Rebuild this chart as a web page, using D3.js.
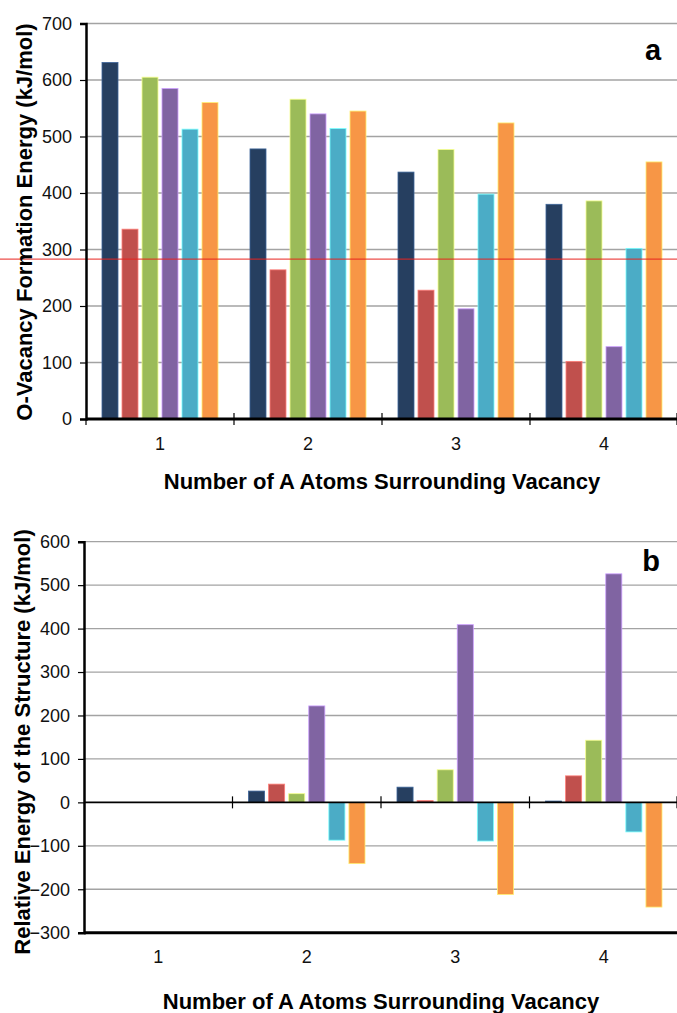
<!DOCTYPE html>
<html>
<head>
<meta charset="utf-8">
<script src="https://cdn.jsdelivr.net/npm/d3@7"></script>
<style>
  body { margin: 0; background: #fff; }
  svg { display: block; }
  .tick-label { font-family: 'Liberation Sans Narrow', 'Arial Narrow', 'Liberation Sans', Arial, sans-serif; font-size: 18px; fill: #111; }
  .title { font-family: 'Liberation Sans', Arial, sans-serif; font-weight: bold; font-size: 22px; fill: #000; }
  .panel-tag { font-family: 'Liberation Sans', Arial, sans-serif; font-weight: bold; font-size: 29px; fill: #000; }
</style>
</head>
<body>
<svg width="677" height="1013"></svg>
<script>
// shared
let categories = ['1', '2', '3', '4'];
let seriesColors = ['#263f60', '#c0504d', '#9bbb59', '#8064a2', '#4bacc6', '#f79646'];

// panel a: O-vacancy formation energy
let formNavy = [631, 478, 437, 380];
let formRed = [336, 264, 228, 102];
let formGreen = [605, 566, 477, 386];
let formPurple = [585, 540, 195, 128];
let formCyan = [513, 514, 398, 302];
let formOrange = [560, 545, 524, 455];
let formRefLine = 283;
let formTicks = [0, 100, 200, 300, 400, 500, 600, 700];

// panel b: relative energy of the structure
let relNavy = [0, 26, 35, 3];
let relRed = [0, 42, 4, 61];
let relGreen = [0, 20, 75, 143];
let relPurple = [0, 222, 409, 526];
let relCyan = [0, -87, -89, -68];
let relOrange = [0, -141, -212, -241];
let relTicks = [-300, -200, -100, 0, 100, 200, 300, 400, 500, 600];

let svg = d3.select('svg');

function drawPanel(opt) {
  let g = svg.append('g');
  let series = opt.series;
  let x0 = d3.scaleBand().domain(categories).range([opt.left, opt.right]);
  let x1 = d3.scaleBand().domain(d3.range(series.length))
    .range([16, x0.bandwidth() - 16]).paddingInner(0.2);
  let y = d3.scaleLinear().domain(opt.domain).range([opt.bottom, opt.top]);

  // gridlines
  g.append('g')
    .selectAll('line')
    .data(opt.ticks.filter(function(d) { return d != 0 && d != opt.domain[0]; }))
    .enter()
    .append('line')
    .attr('x1', opt.left).attr('x2', opt.right)
    .attr('y1', function(d) { return y(d); })
    .attr('y2', function(d) { return y(d); })
    .attr('stroke', '#a3a3a3')
    .attr('stroke-width', 1.3);

  // bars
  let rows = [];
  series.forEach(function(vals, si) {
    vals.forEach(function(v, ci) {
      rows.push({ s: si, c: categories[ci], v: v });
    });
  });
  g.append('g')
    .selectAll('rect')
    .data(rows.filter(function(d) { return d.v != 0; }))
    .enter()
    .append('rect')
    .attr('x', function(d) { return x0(d.c) + x1(d.s); })
    .attr('width', x1.bandwidth())
    .attr('y', function(d) { return y(Math.max(0, d.v)); })
    .attr('height', function(d) { return Math.abs(y(d.v) - y(0)); })
    .attr('fill', function(d) { return seriesColors[d.s]; })
    .attr('stroke', function(d) { return d3.color(seriesColors[d.s]).brighter(1.3); })
    .attr('stroke-width', 0.8);

  if (opt.refLine != null) {
    g.append('line')
      .attr('x1', 0).attr('x2', opt.right)
      .attr('y1', y(opt.refLine)).attr('y2', y(opt.refLine))
      .attr('stroke', '#e8231e')
      .attr('stroke-width', 1);
  }

  // y axis
  let yAxis = d3.axisLeft(y).tickValues(opt.ticks).tickSize(6).tickPadding(8)
    .tickFormat(d3.format('d'));
  let ya = g.append('g')
    .attr('transform', 'translate(' + opt.left + ',0)')
    .call(yAxis);
  ya.select('.domain').attr('stroke', '#000').attr('stroke-width', 2.5);
  ya.selectAll('.tick line').attr('stroke', '#000').attr('stroke-width', 1.2);
  ya.selectAll('.tick text').attr('class', 'tick-label').attr('fill', null)
    .attr('font-size', null).attr('font-family', null);

  // category axis (at zero)
  let zeroY = y(0);
  let isA = opt.domain[0] == 0;
  g.append('line')
    .attr('x1', opt.left).attr('x2', opt.right)
    .attr('y1', zeroY).attr('y2', zeroY)
    .attr('stroke', '#000')
    .attr('stroke-width', isA ? 3 : 1.6);
  g.append('g')
    .selectAll('line')
    .data(categories.slice(1).concat(['end']))
    .enter()
    .append('line')
    .attr('x1', function(d) { return d == 'end' ? opt.right - 1 : x0(d); })
    .attr('x2', function(d) { return d == 'end' ? opt.right - 1 : x0(d); })
    .attr('y1', zeroY - 6).attr('y2', zeroY + 6)
    .attr('stroke', '#000').attr('stroke-width', 1.2);
  if (isA) {
    g.append('line')
      .attr('x1', opt.left).attr('x2', opt.left)
      .attr('y1', zeroY).attr('y2', zeroY + 6)
      .attr('stroke', '#000').attr('stroke-width', 1.2);
  } else {
    // bottom frame line for panel b
    g.append('line')
      .attr('x1', opt.left).attr('x2', opt.right)
      .attr('y1', opt.bottom).attr('y2', opt.bottom)
      .attr('stroke', '#000').attr('stroke-width', 3);
  }

  g.append('g')
    .selectAll('text')
    .data(categories)
    .enter()
    .append('text')
    .attr('class', 'tick-label')
    .attr('x', function(d) { return x0(d) + x0.bandwidth() / 2; })
    .attr('y', opt.catY)
    .attr('text-anchor', 'middle')
    .text(function(d) { return d; });

  g.append('text')
    .attr('class', 'title')
    .attr('x', (opt.left + opt.right) / 2)
    .attr('y', opt.xTitleY)
    .attr('text-anchor', 'middle')
    .text('Number of A Atoms Surrounding Vacancy');

  g.append('text')
    .attr('class', 'title')
    .attr('transform', 'translate(' + opt.yTitleX + ',' + opt.yTitleMid + ') rotate(-90)')
    .attr('text-anchor', 'middle')
    .text(opt.yTitle);

  g.append('text')
    .attr('class', 'panel-tag')
    .attr('x', opt.tagX).attr('y', opt.tagY)
    .attr('text-anchor', 'middle')
    .text(opt.tag);
}

drawPanel({
  series: [formNavy, formRed, formGreen, formPurple, formCyan, formOrange],
  domain: [0, 700], ticks: formTicks, refLine: formRefLine,
  left: 86, right: 678, top: 23.5, bottom: 419,
  catY: 450, xTitleY: 489,
  yTitle: 'O-Vacancy Formation Energy (kJ/mol)', yTitleX: 32, yTitleMid: 222,
  tag: 'a', tagX: 653, tagY: 60
});

drawPanel({
  series: [relNavy, relRed, relGreen, relPurple, relCyan, relOrange],
  domain: [-300, 600], ticks: relTicks, refLine: null,
  left: 84, right: 678, top: 541.7, bottom: 932.7,
  catY: 963, xTitleY: 1009,
  yTitle: 'Relative Energy of the Structure (kJ/mol)', yTitleX: 30, yTitleMid: 742,
  tag: 'b', tagX: 651, tagY: 571
});
</script>
</body>
</html>
